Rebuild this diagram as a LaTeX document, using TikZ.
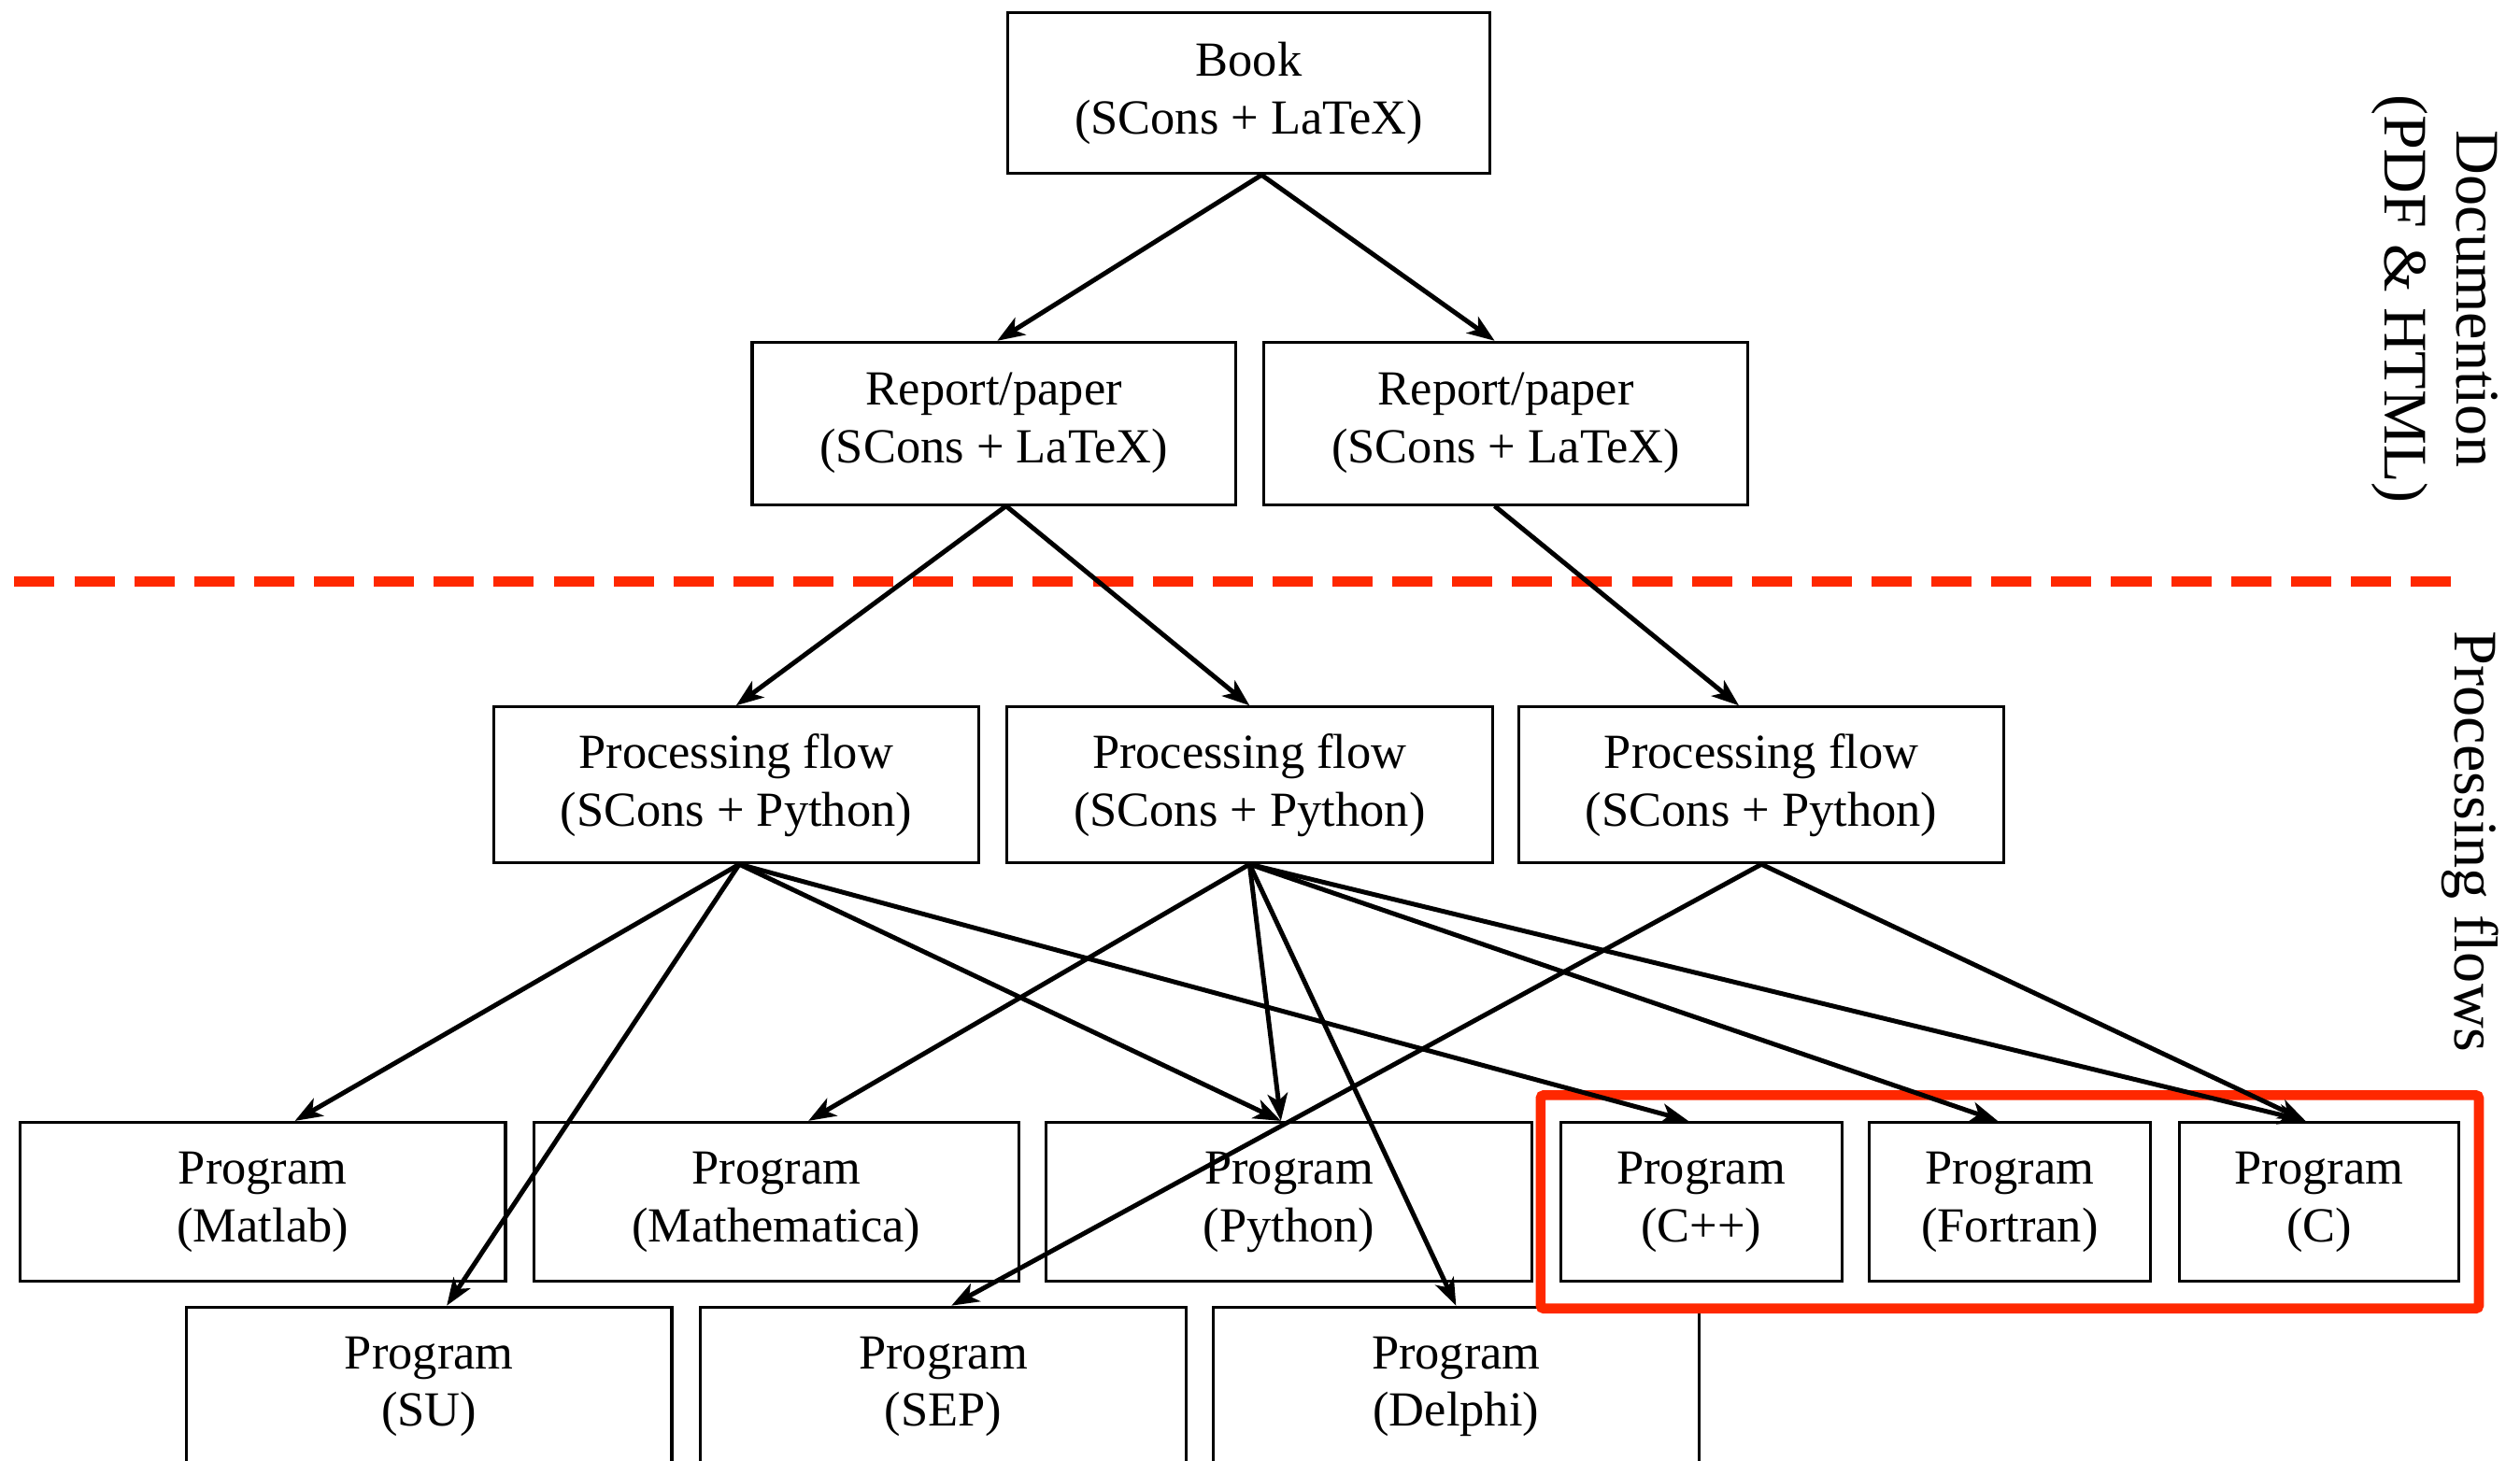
\documentclass[tikz,border=0pt]{standalone}
\usepackage{fontspec}
\setmainfont{Liberation Serif}
\usetikzlibrary{arrows.meta,fit}
\definecolor{redc}{RGB}{255,40,0}
\begin{document}
\begin{tikzpicture}[x=1pt,y=-1pt,
  box/.style={draw, line width=1.8pt, minimum width=302pt, minimum height=99pt,
    align=center, inner sep=0pt, font=\fontsize{30.5}{36}\selectfont},
  sbox/.style={box, minimum width=175pt},
  arr/.style={line width=2.9pt, -{Stealth[length=17pt,width=12.5pt,inset=4.5pt]}},
  side/.style={rotate=-90, align=center, inner sep=0pt, font=\fontsize{38.5}{45}\selectfont}]
\clip (0,0) rectangle (1568,909);
\fill[white] (0,0) rectangle (1568,909);
% documentation level
\node[box, minimum width=300pt, minimum height=100pt] (book) at (777,58) {Book\\(SCons + LaTeX)};
\node[box, minimum width=301pt, minimum height=101pt] (repL) at (618.5,263.5) {Report/paper\\(SCons + LaTeX)};
\node[box, minimum width=301pt, minimum height=101pt] (repR) at (937,263.5) {Report/paper\\(SCons + LaTeX)};
% processing flows
\node[box, minimum height=97pt] (pf1) at (458,488.5) {Processing flow\\(SCons + Python)};
\node[box, minimum height=97pt] (pf2) at (777.5,488.5) {Processing flow\\(SCons + Python)};
\node[box, minimum height=97pt] (pf3) at (1096,488.5) {Processing flow\\(SCons + Python)};
% programs row 1
\node[box] (matlab) at (163.5,748) {Program\\(Matlab)};
\node[box] (math) at (483,748) {Program\\(Mathematica)};
\node[box] (python) at (802,748) {Program\\(Python)};
\node[sbox] (cpp) at (1058.5,748) {Program\\(C++)};
\node[sbox] (fortran) at (1250.5,748) {Program\\(Fortran)};
\node[sbox, minimum width=174pt] (cc) at (1443,748) {Program\\(C)};
% programs row 2
\node[box] (su) at (267,863) {Program\\(SU)};
\node[box] (sep) at (587,863) {Program\\(SEP)};
\node[box] (delphi) at (906,863) {Program\\(Delphi)};
% red group box
\node[draw=redc, line width=6.2pt, rounded corners=2pt, inner xsep=11.5pt, inner ysep=16pt, fit=(cpp)(cc)] (grp) {};
% separator
\coordinate (sepL) at (9,362);
\coordinate (sepR) at (1525,362);
\draw[redc, line width=6pt, dash pattern=on 25pt off 12.275pt] (sepL) -- (sepR);
% side labels
\node[side] (doclbl) at (1515,186) {Documention\\(PDF \& HTML)};
\node[side] (pflbl) at (1537,524) {Processing flows};
% arrows
\draw[arr] ([xshift=8pt]book.south) -- ([xshift=2pt]repL.north);
\draw[arr] ([xshift=8pt]book.south) -- ([xshift=-7pt]repR.north);
\draw[arr] ([xshift=7.5pt]repL.south) -- (pf1.north);
\draw[arr] ([xshift=7.5pt]repL.south) -- (pf2.north);
\draw[arr] ([xshift=-7pt]repR.south) -- ([xshift=-14pt]pf3.north);
\draw[arr] ([xshift=2pt]pf1.south) -- ([xshift=20pt]matlab.north);
\draw[arr] ([xshift=2pt]pf1.south) -- ([xshift=11pt]su.north);
\draw[arr] ([xshift=2pt]pf1.south) -- ([xshift=-5pt]python.north);
\draw[arr] ([xshift=2pt]pf1.south) -- ([xshift=-8pt]cpp.north);
\draw[arr] (pf2.south) -- ([xshift=20pt]math.north);
\draw[arr] (pf2.south) -- ([xshift=-5pt]python.north);
\draw[arr] (pf2.south) -- ([xshift=0pt]delphi.north);
\draw[arr] (pf2.south) -- ([xshift=-7.5pt]fortran.north);
\draw[arr] (pf2.south) -- ([xshift=-8.5pt]cc.north);
\draw[arr] (pf3.south) -- ([xshift=5pt]sep.north);
\draw[arr] (pf3.south) -- ([xshift=-8.5pt]cc.north);
\end{tikzpicture}
\end{document}
